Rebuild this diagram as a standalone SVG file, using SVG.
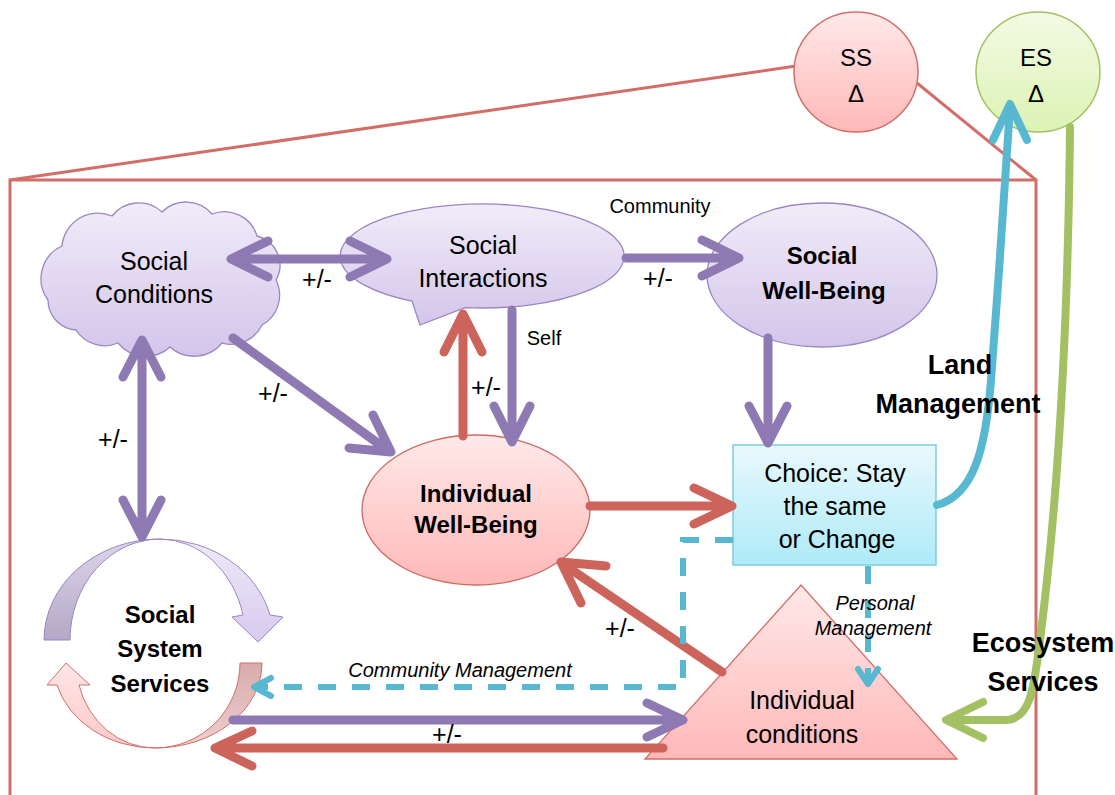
<svg xmlns="http://www.w3.org/2000/svg" width="1115" height="795" viewBox="0 0 1115 795">
  <defs>
    <linearGradient id="gPurple" x1="0" y1="0" x2="0" y2="1">
      <stop offset="0" stop-color="#f1ecf9"/>
      <stop offset="1" stop-color="#d3c5ea"/>
    </linearGradient>
    <linearGradient id="gRed" x1="0" y1="0" x2="0" y2="1">
      <stop offset="0" stop-color="#ffe9e9"/>
      <stop offset="1" stop-color="#ffb8b8"/>
    </linearGradient>
    <linearGradient id="gCyan" x1="0" y1="0" x2="0" y2="1">
      <stop offset="0" stop-color="#e9f9fd"/>
      <stop offset="1" stop-color="#aeeaf8"/>
    </linearGradient>
    <linearGradient id="gGreen" x1="0" y1="0" x2="0" y2="1">
      <stop offset="0" stop-color="#f3fae4"/>
      <stop offset="1" stop-color="#dcf3b4"/>
    </linearGradient>
    <linearGradient id="gArcPurpleL" x1="0" y1="0" x2="0" y2="1">
      <stop offset="0" stop-color="#ddd5ea"/>
      <stop offset="1" stop-color="#b4a8c6"/>
    </linearGradient>
    <linearGradient id="gArcPurpleR" x1="0" y1="0" x2="0" y2="1">
      <stop offset="0" stop-color="#efeaf8"/>
      <stop offset="1" stop-color="#d7caef"/>
    </linearGradient>
    <linearGradient id="gArcRedR" x1="0" y1="0" x2="0" y2="1">
      <stop offset="0" stop-color="#d7acac"/>
      <stop offset="1" stop-color="#efcfcf"/>
    </linearGradient>
    <linearGradient id="gArcRedL" x1="0" y1="0" x2="0" y2="1">
      <stop offset="0" stop-color="#ffe6e6"/>
      <stop offset="1" stop-color="#ffc8c8"/>
    </linearGradient>
  </defs>
  <style>
    text { font-family: "Liberation Sans", Arial, sans-serif; fill: #000; text-anchor: middle; }
    .node { font-size: 25px; }
    .nodeb { font-size: 24px; font-weight: bold; }
    .pm { font-size: 25px; }
    .small { font-size: 20px; }
    .delta { font-size: 24px; }
    .ital { font-size: 20px; font-style: italic; }
    .big { font-size: 27px; font-weight: bold; }
    .frame { fill: none; stroke: #d26e67; stroke-width: 3; }
    .pu { fill: none; stroke: #8e79b3; stroke-width: 9; stroke-linecap: round; stroke-linejoin: round; }
    .rd { fill: none; stroke: #cd645b; stroke-width: 9; stroke-linecap: round; stroke-linejoin: round; }
    .cy { fill: none; stroke: #58b8d1; stroke-width: 8; stroke-linecap: round; stroke-linejoin: round; }
    .cyd { fill: none; stroke: #58b8d1; stroke-width: 6; stroke-dasharray: 18 16; }
    .cyh { fill: none; stroke: #58b8d1; stroke-width: 6; stroke-linecap: round; stroke-linejoin: round; }
    .gr { fill: none; stroke: #a3c062; stroke-width: 8; stroke-linecap: round; stroke-linejoin: round; }
  </style>

  <!-- outer frame of the social system, tied to the SS circle -->
  <g id="frame">
    <path class="frame" d="M 10 795 L 10 180 L 1036 180 L 1036 795"/>
    <path class="frame" d="M 10 180 L 796 66"/>
    <path class="frame" d="M 917 83 L 1036 180"/>
  </g>

  <g id="node-ss">
    <ellipse cx="856" cy="72" rx="62" ry="60" fill="url(#gRed)" stroke="#d26e67" stroke-width="1.5"/>
    <text class="delta" x="856" y="66">SS</text>
    <text class="delta" x="856" y="102">Δ</text>
  </g>

  <g id="node-es">
    <ellipse cx="1038" cy="72" rx="62" ry="60" fill="url(#gGreen)" stroke="#a3c062" stroke-width="1.5"/>
    <text class="delta" x="1036" y="66">ES</text>
    <text class="delta" x="1036" y="102">Δ</text>
  </g>

  <g id="node-social-conditions">
    <path d="M 48 300 A 36 36 0 0 1 62 246 A 36 36 0 0 1 112 216 A 34 34 0 0 1 162 212 A 34 34 0 0 1 212 214 A 34 34 0 0 1 257 236 A 30 30 0 0 1 276 280 A 34 34 0 0 1 262 325 A 34 34 0 0 1 222 343 A 36 36 0 0 1 170 347 A 36 36 0 0 1 118 343 A 34 34 0 0 1 76 330 A 30 30 0 0 1 48 300 Z" fill="url(#gPurple)" stroke="#9a86c2" stroke-width="1.3"/>
    <text class="node" x="154" y="270">Social</text>
    <text class="node" x="154" y="303">Conditions</text>
  </g>

  <g id="node-social-interactions">
    <path d="M 465 307.6 A 142 52 0 1 0 412 301.2 L 420 325 Z" fill="url(#gPurple)" stroke="#9a86c2" stroke-width="1.3"/>
    <text class="node" x="483" y="254">Social</text>
    <text class="node" x="483" y="287">Interactions</text>
  </g>

  <g id="node-social-wellbeing">
    <ellipse cx="822" cy="275" rx="115" ry="72" fill="url(#gPurple)" stroke="#9a86c2" stroke-width="1.3"/>
    <text class="nodeb" x="822" y="264">Social</text>
    <text class="nodeb" x="824" y="299">Well-Being</text>
  </g>

  <g id="node-individual-wellbeing">
    <ellipse cx="476" cy="510" rx="114" ry="75" fill="url(#gRed)" stroke="#cf6a63" stroke-width="1.3"/>
    <text class="nodeb" x="476" y="502">Individual</text>
    <text class="nodeb" x="476" y="533">Well-Being</text>
  </g>

  <g id="node-choice">
    <rect x="733" y="445" width="203" height="120" fill="url(#gCyan)" stroke="#7ccde1" stroke-width="1.5"/>
    <text class="node" x="835" y="482">Choice: Stay</text>
    <text class="node" x="835" y="515">the same</text>
    <text class="node" x="837" y="548">or Change</text>
  </g>

  <g id="node-individual-conditions">
    <polygon points="801,585 645,759 957,759" fill="url(#gRed)" stroke="#d26e67" stroke-width="1.3"/>
    <text class="node" x="802" y="709">Individual</text>
    <text class="node" x="802" y="743">conditions</text>
  </g>

  <g id="node-social-system-services">
    <!-- upper (purple) circular arrow, tapering to the top -->
    <path d="M 44 640 A 116 101 0 0 1 160 539 A 90 101 0 0 0 70 640 Z" fill="url(#gArcPurpleL)" stroke="#9a86c2" stroke-width="1"/>
    <path d="M 160 539 A 114 101 0 0 1 270 615 L 283 617 L 258 642 L 232 617 L 243 615 A 86 101 0 0 0 160 539 Z" fill="url(#gArcPurpleR)" stroke="#9a86c2" stroke-width="1"/>
    <!-- lower (red) circular arrow -->
    <path d="M 262 663 A 107 85 0 0 1 155 748 A 85 85 0 0 0 240 663 Z" fill="url(#gArcRedR)" stroke="#d26e67" stroke-width="1"/>
    <path d="M 155 748 A 101.5 85 0 0 1 57 685 L 47 685 L 66 663 L 90 685 L 79 685 A 78.7 85 0 0 0 155 748 Z" fill="url(#gArcRedL)" stroke="#d26e67" stroke-width="1"/>
    <text class="nodeb" x="160" y="623">Social</text>
    <text class="nodeb" x="160" y="657">System</text>
    <text class="nodeb" x="160" y="692">Services</text>
  </g>

  <g id="connectors">
    <!-- Social Conditions <-> Social Interactions -->
    <path class="pu" d="M 233 259 L 385 259 M 268 241 L 231 259 L 268 277 M 350 241 L 387 259 L 350 277"/>
    <!-- Social Interactions -> Social Well-Being -->
    <path class="pu" d="M 626 258 L 738 258 M 702 240 L 739 258 L 702 276"/>
    <!-- Social Well-Being -> Choice -->
    <path class="pu" d="M 768 338 L 768 442 M 749 406 L 768 443 L 787 406"/>
    <!-- Social Interactions -> Individual Well-Being (Self) -->
    <path class="pu" d="M 512 310 L 512 441 M 494 406 L 512 442 L 530 406"/>
    <!-- Social Conditions -> Individual Well-Being -->
    <path class="pu" d="M 233 338 L 390 452 M 373 415 L 391 452 L 349 448"/>
    <!-- Social Conditions <-> Social System Services -->
    <path class="pu" d="M 142 341 L 142 536 M 123 377 L 142 340 L 161 377 M 123 500 L 142 537 L 161 500"/>
    <!-- Social System Services -> Individual conditions -->
    <path class="pu" d="M 233 720 L 682 720 M 647 703 L 683 720 L 647 737"/>

    <!-- Individual Well-Being -> Social Interactions -->
    <path class="rd" d="M 463 436 L 463 316 M 444 352 L 463 314 L 482 352"/>
    <!-- Individual Well-Being -> Choice -->
    <path class="rd" d="M 590 506 L 730 506 M 694 488 L 732 506 L 694 524"/>
    <!-- Individual conditions -> Individual Well-Being -->
    <path class="rd" d="M 722 672 L 563 564 M 606 566 L 561 562 L 581 603"/>
    <!-- Individual conditions -> Social System Services -->
    <path class="rd" d="M 663 748 L 217 748 M 252 731 L 215 748 L 252 766"/>

    <!-- Community Management (dashed) -->
    <path class="cyd" d="M 733 540 L 683 540 L 683 687 L 258 687"/>
    <path class="cyh" d="M 271 678 L 254 687 L 271 696"/>
    <!-- Personal Management (dashed) -->
    <path class="cyd" d="M 868 566 L 868 680"/>
    <path class="cyh" d="M 858 669 L 868 684 L 878 669"/>

    <!-- Land Management: Choice -> ES -->
    <path class="cy" d="M 937 505 C 975 495, 986 445, 991 380 C 998 290, 1006 170, 1010 107"/>
    <path class="cy" d="M 993 140 L 1010 104 L 1027 140"/>

    <!-- Ecosystem Services: ES -> Individual conditions -->
    <path class="gr" d="M 1070 127 C 1068 330, 1058 500, 1040 640 C 1034 690, 1030 720, 1005 720 L 948 720"/>
    <path class="gr" d="M 983 702 L 946 720 L 983 738"/>
  </g>

  <g id="labels">
    <text class="pm" x="317" y="288">+/-</text>
    <text class="pm" x="658" y="287">+/-</text>
    <text class="pm" x="486" y="396">+/-</text>
    <text class="pm" x="273" y="402">+/-</text>
    <text class="pm" x="113" y="448">+/-</text>
    <text class="pm" x="620" y="637">+/-</text>
    <text class="pm" x="447" y="743">+/-</text>
    <text class="small" x="660" y="213">Community</text>
    <text class="small" x="544" y="345">Self</text>
    <text class="ital" x="460" y="677">Community Management</text>
    <text class="ital" x="875" y="610">Personal</text>
    <text class="ital" x="873" y="635">Management</text>
    <text class="big" x="960" y="374">Land</text>
    <text class="big" x="958" y="413">Management</text>
    <text class="big" x="1043" y="652">Ecosystem</text>
    <text class="big" x="1043" y="691">Services</text>
  </g>
</svg>
